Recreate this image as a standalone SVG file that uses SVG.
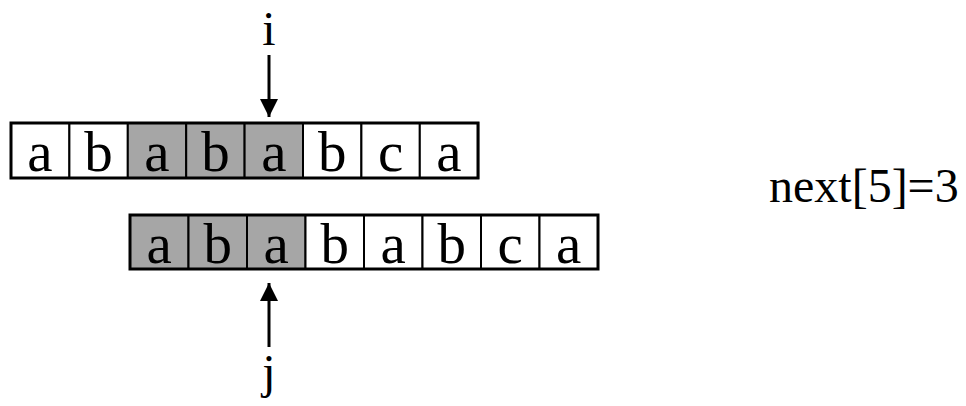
<svg xmlns="http://www.w3.org/2000/svg" width="966" height="406" viewBox="0 0 966 406">
<style>
.cell{stroke:#000;stroke-width:2}
.w{fill:#fff}
.g{fill:#a6a6a6}
.frame{fill:none;stroke:#000;stroke-width:3}
.t{font-family:"Liberation Serif",serif;font-size:57px;text-anchor:middle;fill:#000}
.lbl{font-family:"Liberation Serif",serif;font-size:48px;fill:#000}
.arr{stroke:#000;stroke-width:3;fill:none}
</style>
<defs>
<marker id="ah" viewBox="0 0 10 10" refX="10" refY="5" markerWidth="6" markerHeight="6" markerUnits="strokeWidth" orient="auto">
<path d="M0,0 L10,5 L0,10 z" fill="#000"/>
</marker>
</defs>
<rect width="966" height="406" fill="#fff"/>
<g id="row-s">
<rect class="cell w" x="11" y="123" width="58.4" height="55"/>
<rect class="cell w" x="69.4" y="123" width="58.4" height="55"/>
<rect class="cell g" x="127.8" y="123" width="58.4" height="55"/>
<rect class="cell g" x="186.2" y="123" width="58.4" height="55"/>
<rect class="cell g" x="244.6" y="123" width="58.4" height="55"/>
<rect class="cell w" x="303" y="123" width="58.4" height="55"/>
<rect class="cell w" x="361.4" y="123" width="58.4" height="55"/>
<rect class="cell w" x="419.8" y="123" width="58.4" height="55"/>
<rect class="frame" x="11" y="123" width="467" height="55"/>
<text class="t" x="40" y="171">a</text>
<text class="t" x="98.6" y="171">b</text>
<text class="t" x="157" y="171">a</text>
<text class="t" x="215.4" y="171">b</text>
<text class="t" x="273.8" y="171">a</text>
<text class="t" x="332.2" y="171">b</text>
<text class="t" x="390.6" y="171">c</text>
<text class="t" x="449" y="171">a</text>
</g>
<g id="row-p">
<rect class="cell g" x="130" y="215" width="58.5" height="54"/>
<rect class="cell g" x="188.5" y="215" width="58.5" height="54"/>
<rect class="cell g" x="247" y="215" width="58.5" height="54"/>
<rect class="cell w" x="305.5" y="215" width="58.5" height="54"/>
<rect class="cell w" x="364" y="215" width="58.5" height="54"/>
<rect class="cell w" x="422.5" y="215" width="58.5" height="54"/>
<rect class="cell w" x="481" y="215" width="58.5" height="54"/>
<rect class="cell w" x="539.5" y="215" width="58.5" height="54"/>
<rect class="frame" x="130" y="215" width="468" height="54"/>
<text class="t" x="159.2" y="263">a</text>
<text class="t" x="217.7" y="263">b</text>
<text class="t" x="276.2" y="263">a</text>
<text class="t" x="334.7" y="263">b</text>
<text class="t" x="393.2" y="263">a</text>
<text class="t" x="451.7" y="263">b</text>
<text class="t" x="510.2" y="263">c</text>
<text class="t" x="568.7" y="263">a</text>
</g>
<g id="label-i"><text class="lbl" x="269" y="45" text-anchor="middle">i</text></g>
<g id="label-j"><text class="lbl" x="269" y="388" text-anchor="middle">j</text></g>
<g id="label-next"><text class="lbl" x="769" y="202">next[5]=3</text></g>
<g id="connectors">
<line class="arr" x1="269" y1="55" x2="269" y2="117" marker-end="url(#ah)"/>
<line class="arr" x1="269" y1="347" x2="269" y2="283" marker-end="url(#ah)"/>
</g>
</svg>
